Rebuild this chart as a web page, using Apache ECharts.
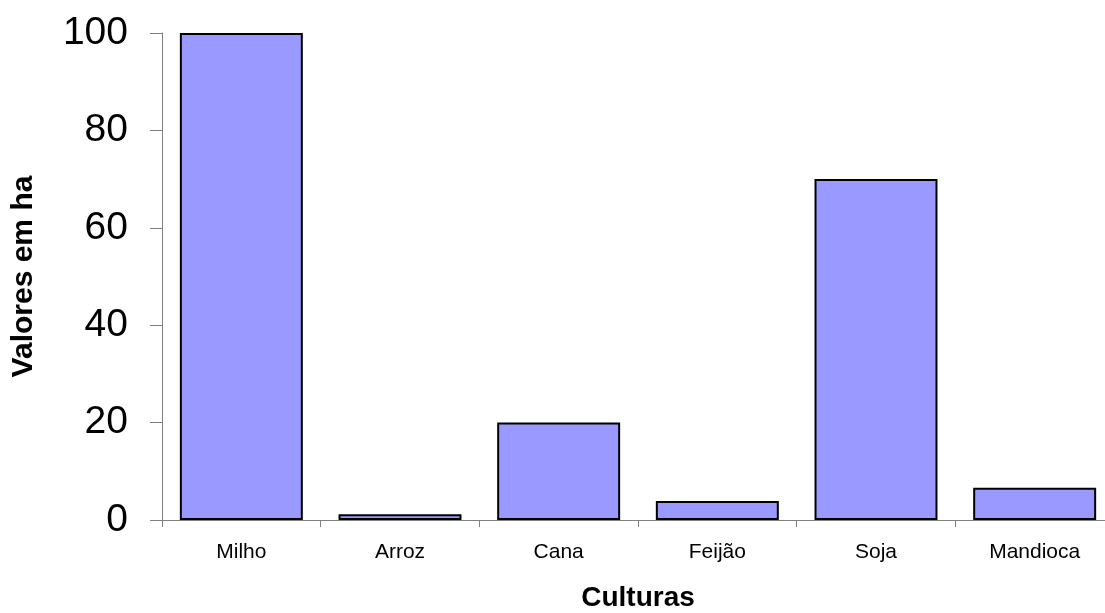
<!DOCTYPE html>
<html>
<head>
    <meta charset="utf-8">
    <title>Culturas</title>
    <script src="https://cdn.jsdelivr.net/npm/echarts@6/dist/echarts.min.js"></script>
    <style>
        html, body { margin: 0; padding: 0; background: #fff; }
    </style>
</head>
<body>
    <div id="main" style="width: 1105px;height:613px;"></div>
    <script type="text/javascript">
        var culturas = ['Milho', 'Arroz', 'Cana', 'Feijão', 'Soja', 'Mandioca'];
        var valores = [100, 1.2, 20, 3.9, 70, 6.6];
        var yTicks = [0, 20, 40, 60, 80, 100];

        var myChart = echarts.init(document.getElementById('main'));

        var option = {
            animation: false,
            grid: { left: 162, right: -9, top: 33, bottom: 93, outerBoundsMode: 'none', containLabel: false },
            xAxis: {
                type: 'category',
                data: culturas,
                name: 'Culturas',
                nameLocation: 'middle',
                nameGap: 64,
                nameTextStyle: { fontFamily: 'Liberation Sans', fontWeight: 'bold', fontSize: 28, color: '#000' },
                axisLine: { lineStyle: { color: '#808080', width: 1 } },
                axisTick: { show: true, length: 7, lineStyle: { color: '#808080' } },
                axisLabel: { fontFamily: 'Liberation Sans', fontSize: 21, color: '#000', margin: 22 }
            },
            yAxis: {
                type: 'value',
                min: yTicks[0],
                max: yTicks[yTicks.length - 1],
                interval: 20,
                name: 'Valores em ha',
                nameLocation: 'middle',
                nameGap: 123,
                nameRotate: 90,
                nameTextStyle: { fontFamily: 'Liberation Sans', fontWeight: 'bold', fontSize: 30, color: '#000' },
                axisLine: { show: true, lineStyle: { color: '#808080', width: 1 } },
                axisTick: { show: true, length: 12, lineStyle: { color: '#808080' } },
                axisLabel: { fontFamily: 'Liberation Sans', fontSize: 39, color: '#000', margin: 34 },
                splitLine: { show: false }
            },
            series: [{
                type: 'bar',
                data: valores,
                barCategoryGap: '22.5%',
                itemStyle: { color: '#9999FF', borderColor: '#000', borderWidth: 2 }
            }]
        };

        myChart.setOption(option);
    </script>
</body>
</html>
